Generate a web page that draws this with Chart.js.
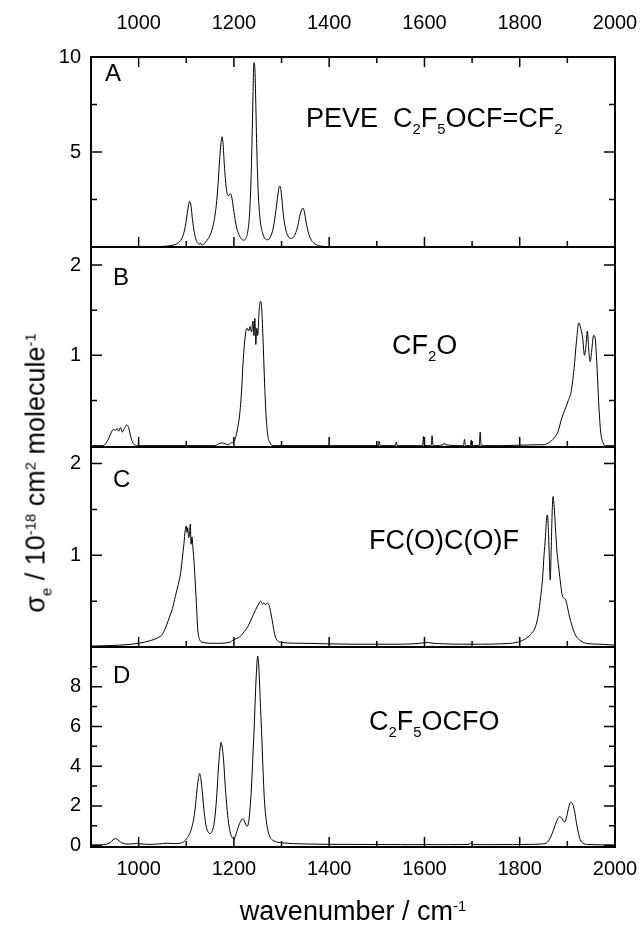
<!DOCTYPE html>
<html>
<head>
<meta charset="utf-8">
<script src="https://cdn.jsdelivr.net/npm/chart.js@4.4.1/dist/chart.umd.min.js"></script>
<style>
  html, body { margin: 0; padding: 0; background: #fff; }
  #wrap { position: relative; width: 640px; height: 925px; overflow: hidden; }
  canvas { position: absolute; left: 0; }
  .t { position: absolute; font-family: 'Liberation Sans', Arial, sans-serif; line-height: 1; white-space: nowrap; color: #000; }
  .t sub, .t sup { font-size: 0.55em; line-height: 0; }
  .t sub { vertical-align: -0.45em; }
  .t sup { vertical-align: 0.62em; }
  .letter { font-size: 24px; }
  .note { font-size: 27px; }
</style>
</head>
<body>
<div id="wrap">
  <canvas id="panelA" width="640" height="251" style="top:0px"></canvas>
  <canvas id="panelB" width="640" height="208" style="top:243px"></canvas>
  <canvas id="panelC" width="640" height="208" style="top:443px"></canvas>
  <canvas id="panelD" width="640" height="282" style="top:643px"></canvas>

  <div class="t letter" style="left:105px; top:60.7px">A</div>
  <div class="t letter" style="left:113px; top:264.7px">B</div>
  <div class="t letter" style="left:113px; top:466.7px">C</div>
  <div class="t letter" style="left:113px; top:662.7px">D</div>

  <div class="t note" style="left:306px; top:105px">PEVE&nbsp; C<sub>2</sub>F<sub>5</sub>OCF=CF<sub>2</sub></div>
  <div class="t note" style="left:392px; top:332px">CF<sub>2</sub>O</div>
  <div class="t note" style="left:369px; top:527px">FC(O)C(O)F</div>
  <div class="t note" style="left:369px; top:708px">C<sub>2</sub>F<sub>5</sub>OCFO</div>

  <div class="t note" style="left:353px; top:898px; transform:translateX(-50%)">wavenumber / cm<sup>-1</sup></div>
  <div class="t note" style="left:36px; top:473px; transform:translate(-50%,-50%) rotate(-90deg)">σ<sub>e</sub> / 10<sup>-18</sup> cm<sup>2</sup> molecule<sup>-1</sup></div>
</div>

<script>
// tick values
const xMajor = [1000, 1200, 1400, 1600, 1800, 2000];
const xMinor = [1100, 1300, 1500, 1700, 1900];
const yMajorA = [5, 10];
const yMinorA = [2.5, 7.5];
const yMajorBC = [1, 2];
const yMinorBC = [0.5, 1.5];
const yMajorD = [0, 2, 4, 6, 8];
const yMinorD = [1, 3, 5, 7, 9];

// A: PEVE
const waveA = [900, 1000, 1040, 1060, 1072, 1082, 1090, 1096, 1100, 1104,
  1107, 1110, 1113, 1117, 1121, 1125, 1128, 1130, 1132, 1136,
  1142, 1150, 1157, 1163, 1167, 1170, 1173, 1175, 1177, 1180,
  1184, 1188, 1191, 1193, 1196, 1200, 1205, 1210, 1215, 1220,
  1225, 1229, 1233, 1236, 1238, 1240, 1242, 1244, 1246, 1248,
  1251, 1255, 1260, 1266, 1271, 1277, 1283, 1288, 1292, 1295,
  1297, 1300, 1304, 1309, 1315, 1321, 1327, 1333, 1338, 1342,
  1345, 1348, 1352, 1357, 1363, 1370, 1380, 1395, 1420, 1600, 2000];
const sigmaA = [0, 0, 0.02, 0.05, 0.1, 0.2, 0.42, 0.85, 1.4, 2.1,
  2.4, 2.15, 1.45, 0.75, 0.35, 0.18, 0.15, 0.22, 0.12, 0.14,
  0.3, 0.62, 1.2, 2.2, 3.4, 4.6, 5.5, 5.8, 5.5, 4.3,
  3.1, 2.7, 2.75, 2.8, 2.55, 1.85, 1.1, 0.68, 0.45, 0.36,
  0.45, 0.8, 1.8, 3.6, 5.6, 7.9, 9.7, 9.4, 7.5, 5.2,
  2.9, 1.45, 0.75, 0.42, 0.38, 0.55, 1.05, 1.9, 2.7, 3.15,
  3.2, 2.7, 1.65, 0.9, 0.52, 0.45, 0.6, 1.0, 1.6, 1.95,
  2.05, 1.85, 1.25, 0.7, 0.35, 0.16, 0.06, 0.02, 0.01, 0, 0];

// B: CF2O
const waveB = [900, 925, 932, 938, 943, 947, 951, 955, 958, 962,
  966, 970, 975, 979, 983, 987, 991, 1000, 1160, 1168,
  1175, 1182, 1188, 1194, 1199, 1204, 1208, 1212, 1216, 1219,
  1222, 1225, 1228, 1231, 1234, 1237, 1240, 1242, 1244, 1246,
  1248, 1250, 1253, 1256, 1258, 1261, 1264, 1267, 1271, 1276,
  1282, 1450, 1503, 1505, 1507, 1539, 1541, 1543, 1596, 1598,
  1600, 1614, 1616, 1618, 1640, 1642, 1644, 1682, 1684, 1686,
  1696, 1698, 1700, 1715, 1717, 1719, 1760, 1840, 1850, 1860,
  1870, 1880, 1888, 1895, 1902, 1908, 1914, 1919, 1924, 1928,
  1932, 1936, 1939, 1942, 1945, 1948, 1951, 1955, 1958, 1962,
  1966, 1970, 1975, 1980, 2000];
const sigmaB = [0, 0, 0.03, 0.09, 0.15, 0.18, 0.17, 0.19, 0.16, 0.2,
  0.15, 0.19, 0.23, 0.2, 0.11, 0.04, 0.01, 0, 0, 0.02,
  0.03, 0.02, 0.01, 0.03, 0.04, 0.1, 0.2, 0.34, 0.6, 0.9,
  1.12, 1.26, 1.3, 1.27, 1.32, 1.26, 1.38, 1.22, 1.41, 1.12,
  1.3, 1.22, 1.5, 1.6, 1.55, 1.2, 0.75, 0.38, 0.12, 0.03,
  0, 0, 0, 0.05, 0, 0, 0.04, 0, 0, 0.1,
  0, 0, 0.11, 0, 0.01, 0.03, 0.01, 0, 0.07, 0,
  0, 0.06, 0, 0, 0.15, 0, 0, 0.01, 0.01, 0.03,
  0.07, 0.15, 0.3, 0.4, 0.5, 0.6, 0.85, 1.15, 1.36, 1.3,
  1.2, 1.0, 1.1, 1.27, 1.05, 0.93, 1.05, 1.22, 1.2, 0.9,
  0.45, 0.15, 0.03, 0, 0];

// C: FC(O)C(O)F
const waveC = [900, 960, 1000, 1025, 1040, 1050, 1058, 1065, 1071, 1077,
  1083, 1088, 1092, 1095, 1098, 1100, 1101.5, 1103, 1105, 1107,
  1108.5, 1110, 1112, 1114, 1116, 1118, 1121, 1124, 1128, 1135,
  1160, 1190, 1200, 1212, 1222, 1230, 1238, 1245, 1252, 1256,
  1260, 1263, 1266, 1270, 1274, 1278, 1282, 1286, 1291, 1300,
  1350, 1450, 1550, 1590, 1605, 1620, 1700, 1780, 1800, 1815,
  1825, 1833, 1839, 1844, 1848, 1851, 1854, 1856, 1858, 1860,
  1862, 1864, 1866, 1868, 1870, 1872, 1875, 1878, 1882, 1886,
  1889, 1893, 1896, 1900, 1905, 1911, 1918, 1925, 1940, 1970, 2000];
const sigmaC = [0.01, 0.02, 0.04, 0.07, 0.1, 0.14, 0.23, 0.33, 0.42, 0.55,
  0.68, 0.8, 0.98, 1.12, 1.28, 1.32, 1.25, 1.3, 1.19, 1.25,
  1.34, 1.12, 1.2, 1.08, 0.95, 0.78, 0.5, 0.2, 0.08, 0.05,
  0.04, 0.05, 0.08, 0.11, 0.17, 0.23, 0.32, 0.4, 0.47, 0.5,
  0.47, 0.48, 0.46, 0.48, 0.45, 0.36, 0.24, 0.13, 0.07, 0.05,
  0.04, 0.03, 0.03, 0.04, 0.05, 0.04, 0.03, 0.04, 0.06, 0.1,
  0.15, 0.22, 0.35, 0.55, 0.75, 1.0, 1.2, 1.38, 1.44, 1.3,
  1.0, 0.73, 1.05, 1.45, 1.64, 1.55, 1.3, 1.05, 0.86, 0.68,
  0.57, 0.53, 0.52, 0.44, 0.32, 0.21, 0.12, 0.08, 0.04, 0.03, 0.02];

// D: C2F5OCFO
const waveD = [900, 920, 932, 940, 946, 951, 956, 962, 969, 980,
  995, 1005, 1020, 1040, 1060, 1075, 1088, 1095, 1101, 1107,
  1112, 1116, 1119, 1122, 1125, 1128, 1131, 1134, 1138, 1142,
  1146, 1150, 1154, 1158, 1162, 1165, 1168, 1171, 1173, 1175,
  1178, 1181, 1184, 1188, 1192, 1196, 1200, 1204, 1208, 1212,
  1216, 1219, 1222, 1225, 1228, 1231, 1234, 1237, 1240, 1243,
  1245, 1247, 1249, 1250, 1252, 1254, 1256, 1258, 1261, 1264,
  1268, 1272, 1276, 1282, 1290, 1300, 1350, 1450, 1550, 1650,
  1694, 1697, 1700, 1750, 1820, 1845, 1855, 1862, 1868, 1874,
  1879, 1884, 1888, 1892, 1895, 1899, 1903, 1907, 1911, 1915,
  1919, 1923, 1927, 1933, 1942, 1970, 2000];
const sigmaD = [0.03, 0.04, 0.07, 0.15, 0.28, 0.35, 0.3, 0.18, 0.1, 0.08,
  0.1, 0.09, 0.06, 0.08, 0.12, 0.1, 0.12, 0.2, 0.36, 0.6,
  0.95, 1.4, 1.95, 2.7, 3.3, 3.63, 3.3, 2.6, 1.6, 0.95,
  0.68, 0.6, 0.72, 1.05, 1.9, 2.9, 4.1, 4.9, 5.2, 5.0,
  4.4, 3.3, 2.3, 1.3, 0.7, 0.42, 0.35, 0.55, 0.86, 1.12,
  1.3, 1.36, 1.25, 1.05, 0.98, 1.2, 1.9, 3.0, 4.6, 6.2,
  7.5, 8.6, 9.4, 9.55, 9.1, 8.1, 6.9, 5.8, 3.9, 2.3,
  1.25, 0.7, 0.42, 0.26, 0.18, 0.14, 0.08, 0.06, 0.05, 0.05,
  0.06, 0.14, 0.05, 0.05, 0.06, 0.08, 0.12, 0.3, 0.6, 1.0,
  1.32, 1.46, 1.38, 1.22, 1.2, 1.5, 1.95, 2.18, 2.1, 1.75,
  1.15, 0.65, 0.3, 0.12, 0.06, 0.04, 0.03];

Chart.defaults.font.family = "'Liberation Sans', Arial, sans-serif";
Chart.defaults.color = '#000';

// border and inward ticks on every panel
const frame = {
    id: 'frame',
    afterDatasetsDraw(chart, args, opts) {
        const ctx = chart.ctx;
        const a = chart.chartArea;
        const x = chart.scales.x;
        const y = chart.scales.y;
        ctx.save();
        ctx.strokeStyle = '#000';
        ctx.lineWidth = 1.5;
        ctx.beginPath();
        const xt = (v, len) => {
            const px = x.getPixelForValue(v);
            ctx.moveTo(px, a.bottom); ctx.lineTo(px, a.bottom - len);
            if (opts.top) { ctx.moveTo(px, a.top); ctx.lineTo(px, a.top + len); }
        };
        const yt = (v, len) => {
            const py = y.getPixelForValue(v);
            ctx.moveTo(a.left, py); ctx.lineTo(a.left + len, py);
            ctx.moveTo(a.right, py); ctx.lineTo(a.right - len, py);
        };
        xMajor.forEach(v => xt(v, 10));
        xMinor.forEach(v => xt(v, 6));
        opts.major.forEach(v => yt(v, 11));
        opts.minor.forEach(v => yt(v, 6));
        ctx.stroke();
        ctx.lineWidth = 2;
        ctx.strokeRect(a.left, a.top, a.right - a.left, a.bottom - a.top);
        ctx.restore();
    }
};

function makePanel(id, waves, sigmas, yMin, yMax, major, minor, xPos, padTop, padBottom) {
    const pts = waves.map((w, i) => ({ x: w, y: sigmas[i] }));
    return new Chart(document.getElementById(id), {
        type: 'line',
        data: {
            datasets: [{
                data: pts,
                borderColor: '#000',
                borderWidth: 1,
                pointRadius: 0,
                fill: false,
                cubicInterpolationMode: 'monotone'
            }]
        },
        options: {
            responsive: false,
            animation: false,
            devicePixelRatio: 1,
            layout: { padding: { left: 0, right: 25, top: padTop, bottom: padBottom } },
            plugins: {
                legend: { display: false },
                tooltip: { enabled: false },
                frame: { top: xPos === 'top', major: major, minor: minor }
            },
            scales: {
                x: {
                    type: 'linear',
                    min: 900,
                    max: 2000,
                    display: !!xPos,
                    position: xPos || 'bottom',
                    grid: { display: false, drawTicks: false },
                    border: { display: false },
                    ticks: {
                        font: { size: 20 },
                        padding: xPos === 'top' ? 22 : 10,
                        maxRotation: 0,
                        autoSkip: false,
                        callback: v => String(v)
                    },
                    afterBuildTicks: s => { s.ticks = xMajor.map(v => ({ value: v })); },
                    afterFit: s => {
                        if (xPos) s.height = xPos === 'top' ? 57 : 78;
                        s.paddingLeft = 0;
                        s.paddingRight = 0;
                    }
                },
                y: {
                    min: yMin,
                    max: yMax,
                    grid: { display: false, drawTicks: false },
                    border: { display: false },
                    ticks: { font: { size: 20 }, padding: 10, callback: v => String(v) },
                    afterBuildTicks: s => { s.ticks = major.map(v => ({ value: v })); },
                    afterFit: s => {
                        s.width = 91;
                        s.paddingTop = 0;
                        s.paddingBottom = 0;
                    }
                }
            }
        },
        plugins: [frame]
    });
}

makePanel('panelA', waveA, sigmaA, 0, 10, yMajorA, yMinorA, 'top', 0, 4);
makePanel('panelB', waveB, sigmaB, -0.015, 2.2, yMajorBC, yMinorBC, null, 4, 4);
makePanel('panelC', waveC, sigmaC, 0, 2.18, yMajorBC, yMinorBC, null, 4, 4);
makePanel('panelD', waveD, sigmaD, -0.07, 10, yMajorD, yMinorD, 'bottom', 4, 0);
</script>
</body>
</html>
